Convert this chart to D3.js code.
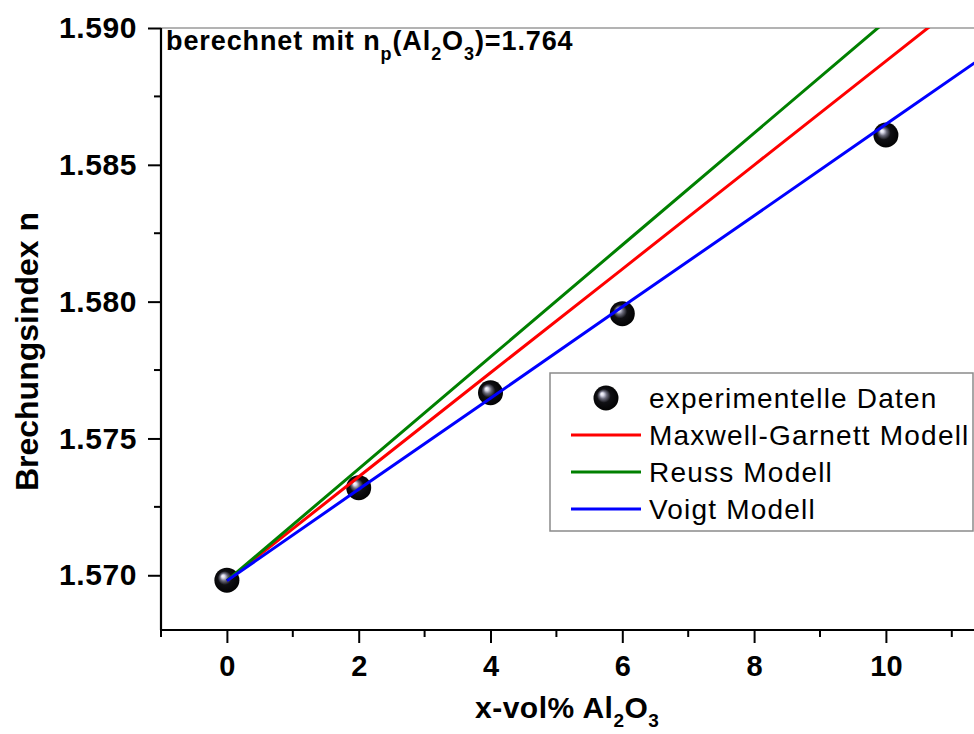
<!DOCTYPE html>
<html>
<head>
<meta charset="utf-8">
<script src="https://cdn.jsdelivr.net/npm/d3@7"></script>
<style>
  html, body { margin: 0; padding: 0; background: #fff; }
  svg { display: block; font-family: Arial, "Liberation Sans", sans-serif; }
</style>
</head>
<body>
<svg id="chart" width="974" height="734"></svg>
<script>
// ---- data ----
const xExp = [0, 2, 4, 6, 10];
const nExp = [1.56982, 1.57320, 1.57667, 1.57956, 1.58609];

const xModel = [0, 2, 4, 6, 8, 10, 12];
const nMaxwellGarnett = [1.5698, 1.57360, 1.57740, 1.58119, 1.58499, 1.58879, 1.59259];
const nReuss          = [1.5698, 1.57389, 1.57798, 1.58207, 1.58616, 1.59025, 1.59434];
const nVoigt          = [1.5698, 1.57314, 1.57647, 1.57981, 1.58314, 1.58648, 1.58982];

const xTicks = [0, 2, 4, 6, 8, 10];
const xMinorTicks = [-1, 1, 3, 5, 7, 9, 11];
const yTicks = [1.570, 1.575, 1.580, 1.585, 1.590];
const yMinorTicks = [1.5725, 1.5775, 1.5825, 1.5875];

const legendLabels = ["experimentelle Daten", "Maxwell-Garnett Modell", "Reuss Modell", "Voigt Modell"];
const seriesColors = ["#000000", "#ff0000", "#008000", "#0000ff"];

(function () {
// ---- layout ----
const svg = d3.select("#chart");
const W = 974, H = 734;
const pLeft = 161, pTop = 28, pBottom = 630;
const x = d3.scaleLinear().domain([-1, 12]).range([pLeft, pLeft + 13 * 65.9]);
const y = d3.scaleLinear().domain([1.568, 1.590]).range([pBottom, pTop]);

svg.append("rect").attr("width", W).attr("height", H).attr("fill", "#fff");

// defs
const defs = svg.append("defs");
defs.append("clipPath").attr("id", "plotclip")
  .append("rect").attr("x", pLeft).attr("y", pTop).attr("width", W - pLeft).attr("height", pBottom - pTop);
const grad = defs.append("radialGradient").attr("id", "sphere")
  .attr("cx", "0.5").attr("cy", "0.5").attr("r", "0.55")
  .attr("fx", "0.33").attr("fy", "0.33");
[[0, "#ffffff"], [0.12, "#d8d8e8"], [0.28, "#6a6a7a"], [0.5, "#101014"], [1, "#000000"]]
  .forEach(([o, c]) => grad.append("stop").attr("offset", o).attr("stop-color", c));

// top frame line (gray)
svg.append("line").attr("x1", pLeft).attr("x2", W).attr("y1", pTop).attr("y2", pTop)
  .attr("stroke", "#9a9a9a").attr("stroke-width", 1.5);

// axes
const yAxis = d3.axisLeft(y).tickValues(yTicks).tickFormat(d3.format(".3f")).tickSize(13).tickPadding(11);
const gy = svg.append("g").attr("transform", `translate(${pLeft},0)`).call(yAxis);
gy.select(".domain").attr("stroke", "#000").attr("stroke-width", 2.2).attr("d", `M0,${pTop}V${pBottom}`);
gy.selectAll(".tick line").attr("stroke", "#000").attr("stroke-width", 2);
gy.selectAll(".tick text").attr("font-size", 30).attr("font-weight", "bold").attr("fill", "#000")
  .attr("letter-spacing", "0.6px")
  .attr("font-family", "Arial, 'Liberation Sans', sans-serif");
svg.append("g").selectAll("line").data(yMinorTicks).join("line")
  .attr("x1", pLeft - 7).attr("x2", pLeft).attr("y1", d => y(d)).attr("y2", d => y(d))
  .attr("stroke", "#000").attr("stroke-width", 2);

const xAxis = d3.axisBottom(x).tickValues(xTicks).tickFormat(d3.format("d")).tickSize(13).tickPadding(12);
const gx = svg.append("g").attr("transform", `translate(0,${pBottom})`).call(xAxis);
gx.select(".domain").attr("stroke", "#000").attr("stroke-width", 2.2).attr("d", `M${pLeft},0H${W}`);
gx.selectAll(".tick line").attr("stroke", "#000").attr("stroke-width", 2);
gx.selectAll(".tick text").attr("font-size", 29).attr("font-weight", "bold").attr("fill", "#000")
  .attr("font-family", "Arial, 'Liberation Sans', sans-serif");
svg.append("g").selectAll("line").data(xMinorTicks).join("line")
  .attr("x1", d => x(d)).attr("x2", d => x(d)).attr("y1", pBottom).attr("y2", pBottom + 7)
  .attr("stroke", "#000").attr("stroke-width", 2);

// plot content
const plot = svg.append("g").attr("clip-path", "url(#plotclip)");

plot.selectAll("circle.exp").data(xExp.map((d, i) => [d, nExp[i]])).join("circle")
  .attr("class", "exp").attr("cx", d => x(d[0])).attr("cy", d => y(d[1])).attr("r", 12.5)
  .attr("fill", "url(#sphere)");

const line = d3.line().x(d => x(d[0])).y(d => y(d[1]));
[[nMaxwellGarnett, seriesColors[1]], [nReuss, seriesColors[2]], [nVoigt, seriesColors[3]]]
  .forEach(([vals, col]) => {
    plot.append("path").datum(xModel.map((d, i) => [d, vals[i]]))
      .attr("d", line).attr("fill", "none").attr("stroke", col).attr("stroke-width", 3);
  });

// legend
const lg = svg.append("g");
lg.append("rect").attr("x", 550).attr("y", 373).attr("width", 423).attr("height", 158)
  .attr("fill", "#fff").attr("stroke", "#8a8a8a").attr("stroke-width", 1.5);
const rowsY = [398, 435, 472, 509];
lg.append("circle").attr("cx", 606).attr("cy", rowsY[0]).attr("r", 12.5).attr("fill", "url(#sphere)");
[1, 2, 3].forEach(i => {
  lg.append("line").attr("x1", 571).attr("x2", 641).attr("y1", rowsY[i]).attr("y2", rowsY[i])
    .attr("stroke", seriesColors[i]).attr("stroke-width", 3);
});
legendLabels.forEach((t, i) => {
  lg.append("text").attr("x", 649).attr("y", rowsY[i] + 10).attr("font-size", 28)
    .attr("letter-spacing", "1.2px").attr("fill", "#000").text(t);
});

// annotation
const ann = svg.append("text").attr("x", 166).attr("y", 50).attr("font-size", 27)
  .attr("letter-spacing", "0.9px")
  .attr("font-weight", "bold").attr("fill", "#000");
ann.append("tspan").text("berechnet mit n");
ann.append("tspan").attr("font-size", 18).attr("dy", 10).text("p");
ann.append("tspan").attr("dy", -10).text("(Al");
ann.append("tspan").attr("font-size", 18).attr("dy", 10).text("2");
ann.append("tspan").attr("dy", -10).text("O");
ann.append("tspan").attr("font-size", 18).attr("dy", 10).text("3");
ann.append("tspan").attr("dy", -10).text(")=1.764");

// axis titles
const xt = svg.append("text").attr("x", 475).attr("y", 718).attr("font-size", 30)
  .attr("letter-spacing", "0.5px")
  .attr("font-weight", "bold").attr("fill", "#000");
xt.append("tspan").text("x-vol% Al");
xt.append("tspan").attr("font-size", 19).attr("dy", 9).text("2");
xt.append("tspan").attr("dy", -9).text("O");
xt.append("tspan").attr("font-size", 19).attr("dy", 9).text("3");

svg.append("text").attr("transform", "translate(38,351.5) rotate(-90)")
  .attr("text-anchor", "middle").attr("font-size", 32).attr("font-weight", "bold")
  .attr("fill", "#000").text("Brechungsindex n");
})();
</script>
</body>
</html>
